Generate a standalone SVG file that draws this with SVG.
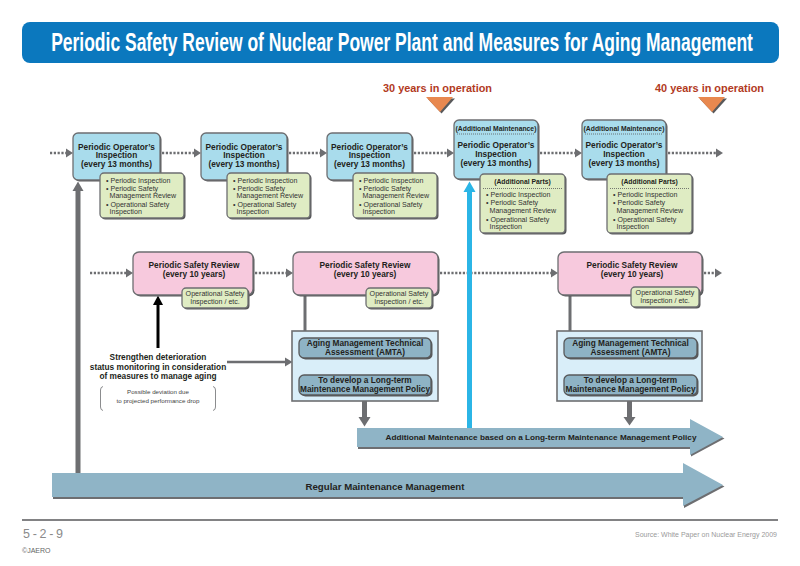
<svg xmlns="http://www.w3.org/2000/svg" width="800" height="566" viewBox="0 0 800 566">
<style>
text{font-family:"Liberation Sans",Arial,sans-serif;fill:#231f20}
.b{font-weight:bold}
.bt{font-size:8.3px;font-weight:bold;text-anchor:middle}
.gt{font-size:7.1px;fill:#333}
.hd{font-size:6.8px;font-weight:bold;text-anchor:middle}
.blue{fill:#a9dcec;stroke:#6d6e71;stroke-width:1.3}
.green{fill:#dfecc3;stroke:#6d6e71;stroke-width:1.3}
.pink{fill:#f7c9dd;stroke:#6d6e71;stroke-width:1.3}
.sh{fill:#58595b}
.cont{fill:#d9eef9;stroke:#6d6e71;stroke-width:1.6}
.inner{fill:#8eb3c5;stroke:#58595b;stroke-width:1.3}
.dot{stroke:#6d6e71;stroke-width:2.6;stroke-dasharray:2.2 1.6;fill:none}
.sep{stroke:#58595b;stroke-width:0.8;stroke-dasharray:1 1;fill:none}
.gl{stroke:#6d6e71;fill:none}
.gh{fill:#6d6e71}
.arr{fill:#8fb4c6}
.arrsh{fill:#6d6e71}
</style>

<!-- Title -->
<g id="title">
<rect x="22" y="22" width="757" height="41" rx="8" fill="#0b78be"/>
<text transform="translate(402,50.5) scale(0.68,1)" x="0" y="0" class="b" font-size="25" text-anchor="middle" textLength="1032" lengthAdjust="spacingAndGlyphs" style="fill:#fff">Periodic Safety Review of Nuclear Power Plant and Measures for Aging Management</text>
</g>

<g id="marker30">
<text x="383" y="91.5" class="b" font-size="10.5" textLength="109" lengthAdjust="spacingAndGlyphs" style="fill:#b23a1e">30 years in operation</text>
<polygon points="427.5,98.5 455,98.5 441.5,113.5" fill="#58595b"/>
<polygon points="426,97 453,97 440,112" fill="#e8884f"/>
</g>
<g id="marker40">
<text x="655" y="91.5" class="b" font-size="10.5" textLength="109" lengthAdjust="spacingAndGlyphs" style="fill:#b23a1e">40 years in operation</text>
<polygon points="699.5,98.5 727,98.5 713.5,113.5" fill="#58595b"/>
<polygon points="698,97 725,97 712,112" fill="#e8884f"/>
</g>

<!-- Connectors -->
<g id="connectors">
<line class="dot" x1="50" y1="153" x2="66" y2="153"/><polygon class="gh" points="66,148.5 73,153 66,157.5"/>
<line class="dot" x1="162" y1="153" x2="194" y2="153"/><polygon class="gh" points="194,148.5 201,153 194,157.5"/>
<line class="dot" x1="289" y1="153" x2="320" y2="153"/><polygon class="gh" points="320,148.5 327,153 320,157.5"/>
<line class="dot" x1="414" y1="153" x2="447" y2="153"/><polygon class="gh" points="447,148.5 454,153 447,157.5"/>
<line class="dot" x1="540" y1="153" x2="575" y2="153"/><polygon class="gh" points="575,148.5 582,153 575,157.5"/>
<line class="dot" x1="668" y1="153" x2="716" y2="153"/><polygon class="gh" points="716,148.5 723,153 716,157.5"/>
<line class="dot" x1="90" y1="273" x2="126" y2="273"/><polygon class="gh" points="126,268.5 133,273 126,277.5"/>
<line class="dot" x1="255" y1="273" x2="286" y2="273"/><polygon class="gh" points="286,268.5 293,273 286,277.5"/>
<line class="dot" x1="440" y1="273" x2="551" y2="273"/><polygon class="gh" points="551,268.5 558,273 551,277.5"/>
<line class="dot" x1="704" y1="273" x2="715" y2="273"/><polygon class="gh" points="715,268.5 722,273 715,277.5"/>
<line class="gl" x1="305" y1="295" x2="305" y2="331" stroke-width="3"/>
<line class="gl" x1="570" y1="295" x2="570" y2="331" stroke-width="3"/>
<line class="gl" x1="227" y1="362" x2="285" y2="362" stroke-width="2.6"/>
<polygon class="gh" points="285,357.5 292.5,362 285,366.5"/>
<line class="gl" x1="365" y1="358" x2="365" y2="368" stroke-width="2.4"/>
<polygon class="gh" points="360.5,367 369.5,367 365,374.5"/>
<line class="gl" x1="630" y1="358" x2="630" y2="368" stroke-width="2.4"/>
<polygon class="gh" points="625.5,367 634.5,367 630,374.5"/>
<line class="gl" x1="364.5" y1="401" x2="364.5" y2="418" stroke-width="5"/>
<polygon class="gh" points="358.5,417 370.5,417 364.5,426.5"/>
<line class="gl" x1="629.5" y1="401" x2="629.5" y2="418" stroke-width="5"/>
<polygon class="gh" points="623.5,417 635.5,417 629.5,425.5"/>
<line x1="158" y1="348" x2="158" y2="303" stroke="#000" stroke-width="3"/>
<polygon points="153,305 163,305 158,295.5" fill="#000"/>
<line class="gl" x1="78" y1="474" x2="78" y2="189" stroke-width="5"/>
<polygon class="gh" points="72.5,191 83.5,191 78,181.5"/>
<line x1="469.5" y1="429" x2="469.5" y2="190" stroke="#2bb5e6" stroke-width="5"/>
<polygon points="463.5,192 475.5,192 469.5,181.5" fill="#2bb5e6"/>
</g>

<g id="poi1">
<rect x="74.5" y="134.5" width="87" height="47" rx="5" class="sh"/>
<rect x="73" y="133" width="87" height="47" rx="5" class="blue"/>
<text class="bt" x="116.5" y="149.5">Periodic Operator’s</text>
<text class="bt" x="116.5" y="158">Inspection</text>
<text class="bt" x="116.5" y="166.5">(every 13 months)</text>
</g>
<g id="poi1-items">
<rect x="101.5" y="174.5" width="84" height="45" rx="4" class="sh"/>
<rect x="100" y="173" width="84" height="45" rx="4" class="green"/>
<text class="gt" x="106" y="183">• Periodic Inspection</text>
<text class="gt" x="106" y="191">• Periodic Safety</text>
<text class="gt" x="109.5" y="198">Management Review</text>
<text class="gt" x="106" y="206.5">• Operational Safety</text>
<text class="gt" x="109.5" y="214">Inspection</text>
</g>

<g id="poi2">
<rect x="202.5" y="134.5" width="86" height="47" rx="5" class="sh"/>
<rect x="201" y="133" width="86" height="47" rx="5" class="blue"/>
<text class="bt" x="244" y="149.5">Periodic Operator’s</text>
<text class="bt" x="244" y="158">Inspection</text>
<text class="bt" x="244" y="166.5">(every 13 months)</text>
</g>
<g id="poi2-items">
<rect x="228.5" y="174.5" width="83" height="45" rx="4" class="sh"/>
<rect x="227" y="173" width="83" height="45" rx="4" class="green"/>
<text class="gt" x="233" y="183">• Periodic Inspection</text>
<text class="gt" x="233" y="191">• Periodic Safety</text>
<text class="gt" x="236.5" y="198">Management Review</text>
<text class="gt" x="233" y="206.5">• Operational Safety</text>
<text class="gt" x="236.5" y="214">Inspection</text>
</g>

<g id="poi3">
<rect x="328.5" y="134.5" width="85" height="47" rx="5" class="sh"/>
<rect x="327" y="133" width="85" height="47" rx="5" class="blue"/>
<text class="bt" x="369.5" y="149.5">Periodic Operator’s</text>
<text class="bt" x="369.5" y="158">Inspection</text>
<text class="bt" x="369.5" y="166.5">(every 13 months)</text>
</g>
<g id="poi3-items">
<rect x="354.5" y="174.5" width="84" height="45" rx="4" class="sh"/>
<rect x="353" y="173" width="84" height="45" rx="4" class="green"/>
<text class="gt" x="359" y="183">• Periodic Inspection</text>
<text class="gt" x="359" y="191">• Periodic Safety</text>
<text class="gt" x="362.5" y="198">Management Review</text>
<text class="gt" x="359" y="206.5">• Operational Safety</text>
<text class="gt" x="362.5" y="214">Inspection</text>
</g>

<g id="poi4">
<rect x="455.5" y="121.5" width="84" height="59" rx="5" class="sh"/>
<rect x="454" y="120" width="84" height="59" rx="5" class="blue"/>
<text class="hd" x="496" y="130.5">(Additional Maintenance)</text>
<line class="sep" x1="457" y1="134" x2="535" y2="134"/>
<text class="bt" x="496" y="147.5">Periodic Operator’s</text>
<text class="bt" x="496" y="156.5">Inspection</text>
<text class="bt" x="496" y="165.5">(every 13 months)</text>
</g>
<g id="poi4-items">
<rect x="481.5" y="175.5" width="85" height="59" rx="4" class="sh"/>
<rect x="480" y="174" width="85" height="59" rx="4" class="green"/>
<text class="hd" x="522.5" y="184">(Additional Parts)</text>
<line class="sep" x1="483" y1="188.5" x2="562" y2="188.5"/>
<text class="gt" x="486" y="196.5">• Periodic Inspection</text>
<text class="gt" x="486" y="205">• Periodic Safety</text>
<text class="gt" x="489.5" y="212.5">Management Review</text>
<text class="gt" x="486" y="221.5">• Operational Safety</text>
<text class="gt" x="489.5" y="229">Inspection</text>
</g>

<g id="poi5">
<rect x="583.5" y="121.5" width="84" height="59" rx="5" class="sh"/>
<rect x="582" y="120" width="84" height="59" rx="5" class="blue"/>
<text class="hd" x="624" y="130.5">(Additional Maintenance)</text>
<line class="sep" x1="585" y1="134" x2="663" y2="134"/>
<text class="bt" x="624" y="147.5">Periodic Operator’s</text>
<text class="bt" x="624" y="156.5">Inspection</text>
<text class="bt" x="624" y="165.5">(every 13 months)</text>
</g>
<g id="poi5-items">
<rect x="608.5" y="175.5" width="85" height="59" rx="4" class="sh"/>
<rect x="607" y="174" width="85" height="59" rx="4" class="green"/>
<text class="hd" x="649.5" y="184">(Additional Parts)</text>
<line class="sep" x1="610" y1="188.5" x2="689" y2="188.5"/>
<text class="gt" x="613" y="196.5">• Periodic Inspection</text>
<text class="gt" x="613" y="205">• Periodic Safety</text>
<text class="gt" x="616.5" y="212.5">Management Review</text>
<text class="gt" x="613" y="221.5">• Operational Safety</text>
<text class="gt" x="616.5" y="229">Inspection</text>
</g>

<g id="psr1">
<rect x="134.5" y="253.5" width="120" height="43" rx="6" class="sh"/>
<rect x="133" y="252" width="120" height="43" rx="6" class="pink"/>
<text class="bt" x="194" y="267.5">Periodic Safety Review</text>
<text class="bt" x="194" y="276.5">(every 10 years)</text>
<rect x="183.5" y="289.5" width="66" height="20" rx="4" class="sh"/>
<rect x="182" y="288" width="66" height="20" rx="4" class="green"/>
<text class="gt" x="215" y="295.5" font-size="6.9" text-anchor="middle">Operational Safety</text>
<text class="gt" x="215" y="304" font-size="6.9" text-anchor="middle">Inspection / etc.</text>
</g>
<g id="psr2">
<rect x="294.5" y="253.5" width="145" height="43" rx="6" class="sh"/>
<rect x="293" y="252" width="145" height="43" rx="6" class="pink"/>
<text class="bt" x="365" y="267.5">Periodic Safety Review</text>
<text class="bt" x="365" y="276.5">(every 10 years)</text>
<rect x="367.5" y="289.5" width="66" height="20" rx="4" class="sh"/>
<rect x="366" y="288" width="66" height="20" rx="4" class="green"/>
<text class="gt" x="399" y="295.5" font-size="6.9" text-anchor="middle">Operational Safety</text>
<text class="gt" x="399" y="304" font-size="6.9" text-anchor="middle">Inspection / etc.</text>
</g>
<g id="psr3">
<rect x="559.5" y="253.5" width="144" height="43" rx="6" class="sh"/>
<rect x="558" y="252" width="144" height="43" rx="6" class="pink"/>
<text class="bt" x="632" y="267.5">Periodic Safety Review</text>
<text class="bt" x="632" y="276.5">(every 10 years)</text>
<rect x="632.5" y="288.5" width="68" height="20" rx="4" class="sh"/>
<rect x="631" y="287" width="68" height="20" rx="4" class="green"/>
<text class="gt" x="665" y="294.5" font-size="6.9" text-anchor="middle">Operational Safety</text>
<text class="gt" x="665" y="303" font-size="6.9" text-anchor="middle">Inspection / etc.</text>
</g>

<g id="strengthen">
<text class="b" font-size="8.3" text-anchor="middle" x="158" y="360">Strengthen deterioration</text>
<text class="b" font-size="8.3" text-anchor="middle" x="158" y="370">status monitoring in consideration</text>
<text class="b" font-size="8.3" text-anchor="middle" x="158" y="379">of measures to manage aging</text>
<path d="M103,386.5 Q100.5,387 100.5,390 L100.5,407 Q100.5,410 103,410.5" fill="none" stroke="#6d6e71" stroke-width="0.8"/>
<path d="M213,386.5 Q215.5,387 215.5,390 L215.5,407 Q215.5,410 213,410.5" fill="none" stroke="#6d6e71" stroke-width="0.8"/>
<text font-size="6.2" text-anchor="middle" x="158" y="394" style="fill:#444">Possible deviation due</text>
<text font-size="6.2" text-anchor="middle" x="158" y="403" style="fill:#444">to projected performance drop</text>
</g>

<g id="amta1">
<rect x="292" y="331" width="146" height="70" class="cont"/>
<rect x="300.5" y="339.5" width="132" height="20" rx="5" class="sh"/>
<rect x="299" y="338" width="132" height="20" rx="5" class="inner"/>
<text class="bt" x="365" y="346">Aging Management Technical</text>
<text class="bt" x="365" y="355">Assessment (AMTA)</text>
<rect x="300.5" y="376.5" width="132" height="20" rx="5" class="sh"/>
<rect x="299" y="375" width="132" height="20" rx="5" class="inner"/>
<text class="bt" x="365" y="383">To develop a Long-term</text>
<text class="bt" x="365" y="392">Maintenance Management Policy</text>
</g>
<g id="amta2">
<rect x="557" y="331" width="145" height="70" class="cont"/>
<rect x="565.5" y="339.5" width="133" height="20" rx="5" class="sh"/>
<rect x="564" y="338" width="133" height="20" rx="5" class="inner"/>
<text class="bt" x="630.5" y="346">Aging Management Technical</text>
<text class="bt" x="630.5" y="355">Assessment (AMTA)</text>
<rect x="565.5" y="376.5" width="133" height="20" rx="5" class="sh"/>
<rect x="564" y="375" width="133" height="20" rx="5" class="inner"/>
<text class="bt" x="630.5" y="383">To develop a Long-term</text>
<text class="bt" x="630.5" y="392">Maintenance Management Policy</text>
</g>

<g id="additional-maintenance">
<polygon class="arrsh" points="358,430 691,430 691,421 724.5,438.5 691,456.5 691,449 358,449"/>
<polygon class="arr" points="357,428 690,428 690,419 723,437 690,455 690,447 357,447"/>
<text class="b" font-size="7.8" text-anchor="middle" x="541" y="440" textLength="311" lengthAdjust="spacingAndGlyphs">Additional Maintenance based on a Long-term Maintenance Management Policy</text>
</g>
<g id="regular-maintenance">
<polygon class="arrsh" points="53,475 684,475 684,465 724.5,486.5 684,508 684,499 53,499"/>
<polygon class="arr" points="52,473 683,473 683,463 723,485 683,506 683,497 52,497"/>
<text class="b" font-size="9.7" text-anchor="middle" x="385" y="490" textLength="159" lengthAdjust="spacingAndGlyphs">Regular Maintenance Management</text>
</g>

<g id="footer">
<line x1="22" y1="520" x2="778" y2="520" stroke="#58595b" stroke-width="1.5"/>
<text x="23" y="538" font-size="12.5" textLength="40" lengthAdjust="spacing" style="fill:#8a8a8a">5-2-9</text>
<text x="22" y="553" font-size="7" style="fill:#666">©JAERO</text>
<text x="777" y="537" font-size="6.8" text-anchor="end" textLength="142" lengthAdjust="spacingAndGlyphs" style="fill:#9a9a9a">Source: White Paper on Nuclear Energy 2009</text>
</g>
</svg>
